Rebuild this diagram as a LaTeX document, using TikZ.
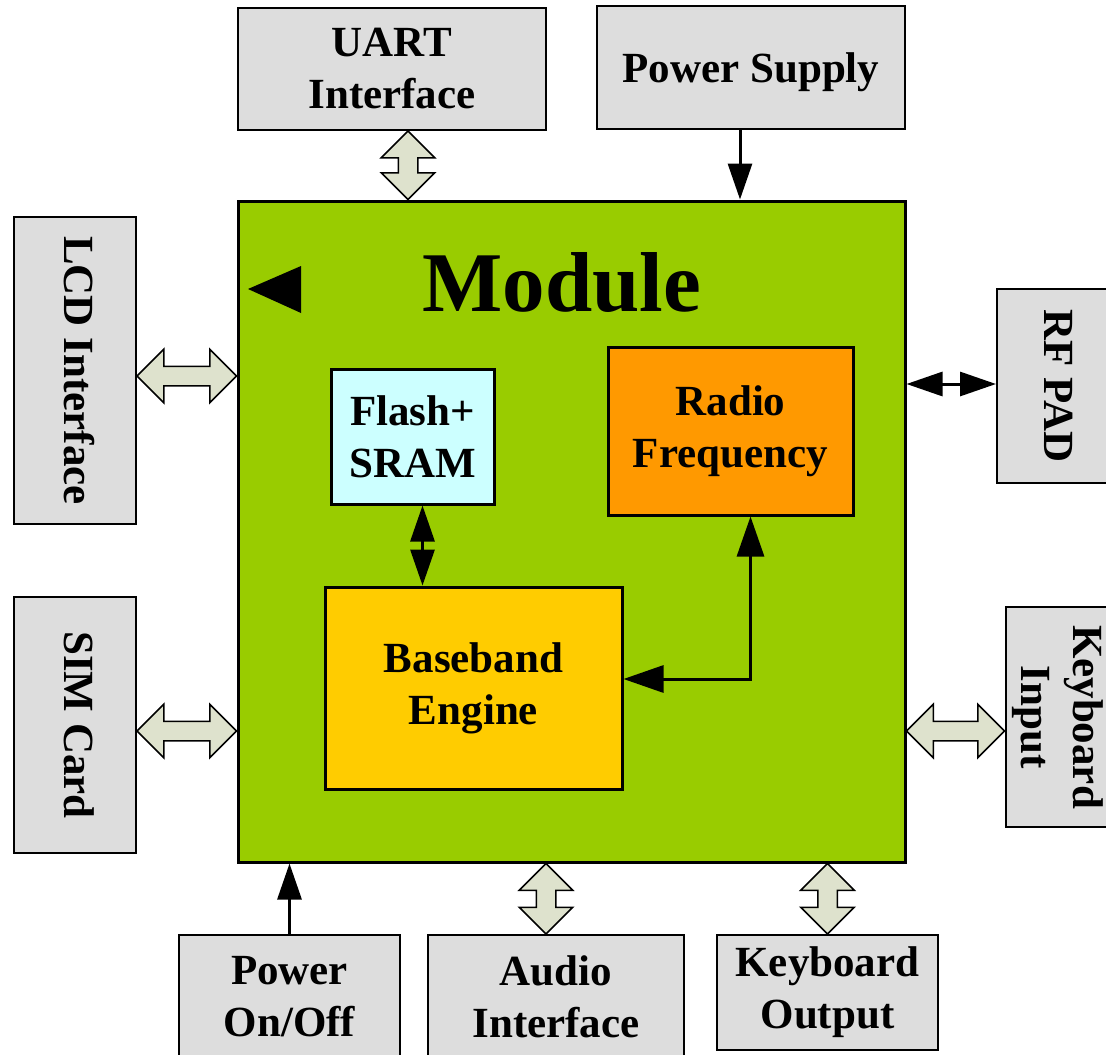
\documentclass[tikz,border=0pt]{standalone}
\usepackage{fontspec}
\usepackage{graphicx}
\setmainfont{Liberation Serif}
\usetikzlibrary{shapes.arrows,arrows.meta,calc}
\definecolor{boxgray}{HTML}{DDDDDD}
\definecolor{modgreen}{HTML}{99CC00}
\definecolor{flashcyan}{HTML}{CCFFFF}
\definecolor{radioorange}{HTML}{FF9900}
\definecolor{bbyellow}{HTML}{FFCC00}
\definecolor{widegray}{HTML}{DEE2CD}
\tikzstyle{blk} = [draw, line width=2pt, fill=boxgray, inner sep=0pt, align=center, font=\fontsize{43}{52}\selectfont\bfseries]
\tikzstyle{wide} = [double arrow, draw, line width=1.5pt, fill=widegray, inner xsep=0pt, inner ysep=9pt, double arrow head extend=17pt]
\newcommand{\widelink}[2]{\path let \p1=#1, \p2=#2, \n1={veclen(\x2-\x1,\y2-\y1)}, \n2={atan2(\y2-\y1,\x2-\x1)} in ({(\x1+\x2)/2},{(\y1+\y2)/2}) node[wide, minimum height=\n1, rotate=\n2] {};}
\newcommand{\vtext}[1]{\rotatebox{-90}{\begin{tabular}{@{}c@{}}#1\end{tabular}}}

\begin{document}
\begin{tikzpicture}[x=1pt,y=-1pt,
		inner/.style={blk, line width=3pt},
		arr/.style={line width=3pt, -{Triangle[length=36pt,width=24pt]}},
		darr/.style={line width=3pt, {Triangle[length=36pt,width=24pt]}-{Triangle[length=36pt,width=24pt]}},
		bigarr/.style={line width=3pt, {Triangle[length=40pt,width=27pt]}-{Triangle[length=40pt,width=27pt]}}]
		\useasboundingbox (0,0) rectangle (1106,1055);
		\node (module)[draw, line width=3pt, fill=modgreen, minimum width=667pt, minimum height=661pt] at (571.5,531.5) {};
		\node (title)[font=\fontsize{85}{90}\selectfont\bfseries] at (562,283) {Module};
		\fill (248,289) -- (301,266) -- (301,313) -- cycle;

		\node (uart)[blk, minimum width=308pt, minimum height=122pt] at (392,69) {UART\\Interface};
		\node (power)[blk, text depth=0pt, minimum width=308pt, minimum height=123pt] at (751,67.5) {Power Supply};
		\node (lcd)[blk, minimum width=122pt, minimum height=307pt] at (75,370.5) {\vtext{LCD Interface}};
		\node (sim)[blk, minimum width=122pt, minimum height=256pt] at (75,725) {\vtext{SIM Card}};
		\node (rfpad)[blk, minimum width=115pt, minimum height=194pt] at (1054.5,386) {\vtext{RF PAD}};
		\node (kbin)[blk, minimum width=115pt, minimum height=220pt] at (1064.5,717) {\vtext{Keyboard\\Input}\hspace{14pt}};
		\node (pwron)[blk, minimum width=221pt, minimum height=123pt] at (289.5,996.5) {Power\\On/Off};
		\node (audio)[blk, minimum width=256pt, minimum height=123pt] at (556,996.5) {Audio\\Interface};
		\node (kbout)[blk, minimum width=221pt, minimum height=115pt] at (827.5,992.5) {Keyboard\\Output};

		\node (flash)[inner, fill=flashcyan, minimum width=163pt, minimum height=135pt] at (412.5,436.5) {Flash+\\SRAM};
		\node (radio)[inner, fill=radioorange, minimum width=245pt, minimum height=168pt] at (730.5,431) {Radio\\Frequency};
		\node (base)[inner, fill=bbyellow, minimum width=297pt, minimum height=202pt] at (473.5,688) {Baseband\\Engine};

		\draw[darr] ([xshift=10pt]flash.south) -- ([xshift=10pt]flash.south |- base.north);
		\draw[bigarr] ([xshift=20pt]radio.south) |- ([yshift=9pt]base.east);
		\draw[arr] ([xshift=-11pt]power.south) -- ([xshift=-11pt]power.south |- module.north);
		\draw[arr] (pwron.north) -- (pwron.north |- module.south);
		\draw[darr] ([yshift=2pt]rfpad.west -| module.east) -- ([yshift=2pt]rfpad.west);

		\widelink{([xshift=16pt]uart.south)}{([xshift=16pt]uart.south |- module.north)}
		\widelink{([yshift=-5.5pt]lcd.east)}{([yshift=-5.5pt]lcd.east -| module.west)}
		\widelink{([yshift=-6pt]sim.east)}{([yshift=-6pt]sim.east -| module.west)}
		\widelink{([yshift=-14pt]kbin.west -| module.east)}{([yshift=-14pt]kbin.west)}
		\widelink{([xshift=-10pt]audio.north |- module.south)}{([xshift=-10pt]audio.north)}
		\widelink{(kbout.north |- module.south)}{(kbout.north)}
	\end{tikzpicture}
\end{document}
